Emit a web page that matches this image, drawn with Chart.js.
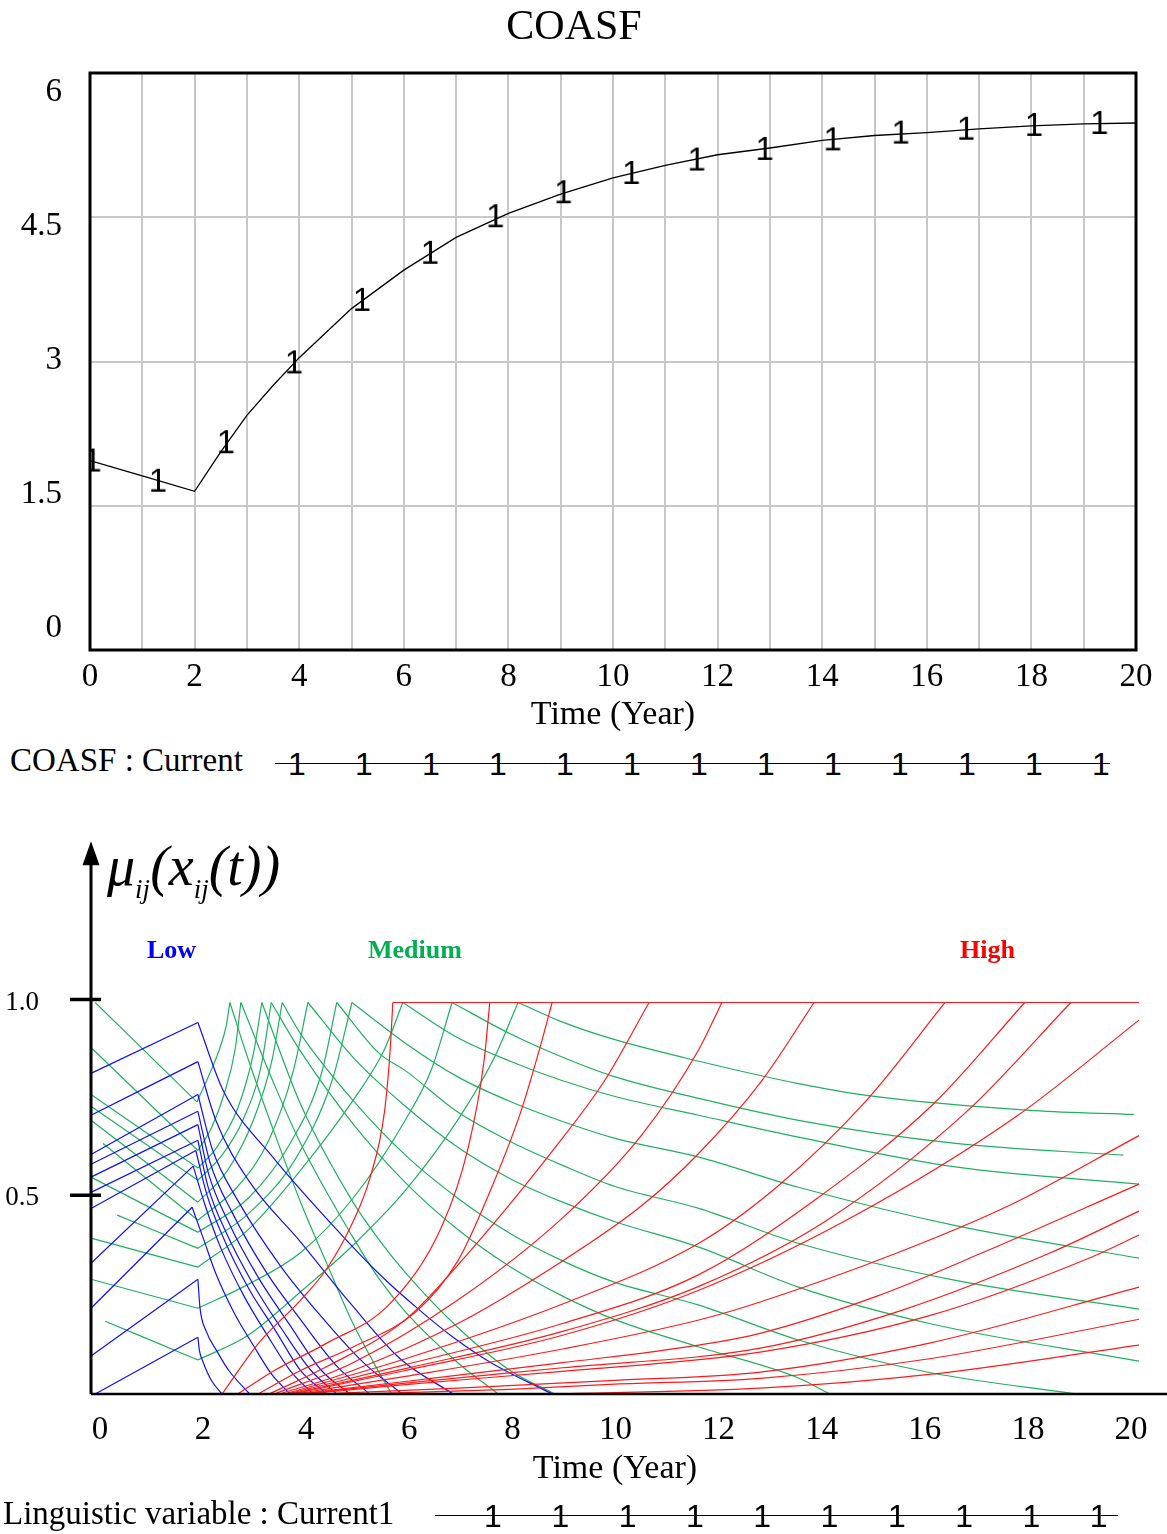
<!DOCTYPE html>
<html><head><meta charset="utf-8">
<script src="https://cdn.jsdelivr.net/npm/chart.js@4.4.1/dist/chart.umd.min.js"></script>
<style>
html,body{margin:0;padding:0;background:#fff;}
body{width:1167px;height:1534px;position:relative;overflow:hidden;font-family:'Liberation Serif','Times New Roman',serif;}
canvas{position:absolute;left:0;}
#c1{top:0;}
#c2{top:790px;}
.txt{position:absolute;white-space:nowrap;color:#000;line-height:1;}
.legline{position:absolute;height:0;border-top:1.5px solid #000;}
.mk{position:absolute;font:32px 'Liberation Sans',Arimo,Arial,sans-serif;line-height:1;transform:translate(-50%,-50%);color:#000;}
sub{font-size:27px;vertical-align:-13px;line-height:0;}
</style></head><body>
<canvas id="c1" width="1167" height="740"></canvas>
<canvas id="c2" width="1167" height="744"></canvas>

<div class="txt" style="left:10px;top:744px;font-size:33px;">COASF : Current</div>
<div class="legline" style="left:275px;top:763px;width:835px;"></div>
<div id="leg1"></div>

<div class="txt" style="left:107px;top:834px;font:italic 56px 'Liberation Serif',serif;">μ<sub>ij</sub>(x<sub>ij</sub>(t))</div>
<div class="txt" style="left:147px;top:935px;font:bold 26px 'Liberation Serif',serif;color:#0000ff;">Low</div>
<div class="txt" style="left:368px;top:935px;font:bold 26px 'Liberation Serif',serif;color:#00b050;">Medium</div>
<div class="txt" style="left:960px;top:935px;font:bold 26px 'Liberation Serif',serif;color:#ff0000;">High</div>

<div class="txt" style="left:3px;top:1497px;font-size:33px;">Linguistic variable : Current1</div>
<div class="legline" style="left:435px;top:1515px;width:683px;"></div>
<div id="leg2"></div>

<script>
// ---------- DATA: top chart (COASF) ----------
const coasfTime   = [0,1,2,2.5,3,3.5,4,5,6,7,8,9,10,11,12,13,14,15,16,17,18,19,20];
const coasfValues = [1.97,1.81,1.65,2.06,2.44,2.75,3.04,3.55,3.95,4.29,4.54,4.74,4.91,5.04,5.15,5.22,5.30,5.35,5.38,5.42,5.45,5.47,5.48];
const markerTime   = [0.05,1.3,2.6,3.9,5.2,6.5,7.75,9.05,10.35,11.6,12.9,14.2,15.5,16.75,18.05,19.3];
const markerValues = [1.96,1.75,2.15,2.98,3.63,4.12,4.50,4.75,4.95,5.09,5.20,5.30,5.37,5.41,5.45,5.47];
const yTicksTop = [0,1.5,3,4.5,6];
const xTicksTop = [0,2,4,6,8,10,12,14,16,18,20];

// ---------- DATA: bottom chart (membership [time, mu]) ----------
const xTicksBottom = [0,2,4,6,8,10,12,14,16,18,20];
const yTicksBottom = [0.5,1.0];

const lowCurves = [
 [[0,0.819],[2.04,0.949],[2.52,0.776],[3.47,0.605],[4.75,0.411],[5.52,0.304],[6.22,0.22],[6.91,0.145],[7.61,0.082],[8.8,0],[20,0]],
 [[0,0.712],[2.04,0.849],[2.38,0.70],[3.01,0.545],[3.99,0.39],[4.96,0.23],[5.9,0.09],[6.91,0],[20,0]],
 [[0,0.612],[2.04,0.765],[2.31,0.627],[2.82,0.49],[3.6,0.33],[4.38,0.2],[5.2,0.08],[5.94,0],[20,0]],
 [[0,0.587],[2.04,0.722],[2.27,0.592],[2.7,0.462],[3.35,0.31],[4.01,0.188],[4.7,0.07],[5.32,0],[20,0]],
 [[0,0.554],[2.04,0.688],[2.24,0.564],[2.62,0.44],[3.2,0.296],[3.78,0.179],[4.4,0.06],[4.94,0],[20,0]],
 [[0,0.515],[2.04,0.648],[2.23,0.531],[2.57,0.415],[3.1,0.279],[3.63,0.168],[4.2,0.06],[4.69,0],[20,0]],
 [[0,0.474],[2.0,0.622],[2.21,0.51],[2.53,0.398],[3.02,0.267],[3.52,0.162],[4.0,0.06],[4.5,0],[20,0]],
 [[0,0.334],[1.95,0.582],[2.19,0.477],[2.48,0.372],[2.92,0.25],[3.36,0.151],[3.8,0.06],[4.24,0],[20,0]],
 [[0,0.219],[1.93,0.477],[2.16,0.391],[2.39,0.305],[2.74,0.205],[3.1,0.124],[3.45,0.05],[3.8,0],[20,0]],
 [[0,0.097],[2.04,0.293],[2.08,0.22],[2.2,0.16],[2.4,0.11],[2.63,0.06],[3.03,0],[20,0]],
 [[0.08,0],[2.04,0.145],[2.07,0.11],[2.13,0.085],[2.22,0.055],[2.32,0.03],[2.5,0],[20,0]]
];

const mediumCurves = [
 [[0.08,1.0],[2.02,0.746],[2.27,0.82],[2.45,0.88],[2.58,0.94],[2.65,1],[3,0.855],[3.5,0.667],[4,0.49],[4.5,0.333],[5,0.18],[5.5,0.055],[5.74,0]],
 [[0,0.885],[2.04,0.622],[2.3,0.68],[2.55,0.77],[2.75,0.88],[2.86,1],[3.5,0.79],[4,0.64],[5,0.40],[5.52,0.29],[6,0.21],[7,0.08],[7.77,0]],
 [[0,0.765],[2.04,0.577],[2.4,0.63],[2.8,0.73],[3.1,0.87],[3.26,1],[4,0.74],[5,0.49],[5.52,0.39],[6,0.31],[7,0.17],[8,0.06],[8.85,0]],
 [[0,0.735],[2.04,0.546],[2.5,0.61],[2.9,0.7],[3.25,0.84],[3.44,1],[4,0.875],[5,0.69],[6,0.54],[7,0.42],[8,0.325],[9,0.25],[10,0.19],[11.6,0.12],[13.5,0.041],[14.1,0]],
 [[0,0.699],[2.04,0.49],[2.6,0.57],[3.1,0.7],[3.45,0.85],[3.65,1],[4,0.92],[5,0.75],[6,0.61],[7,0.50],[8,0.41],[9,0.34],[10,0.285],[11.6,0.227],[13.5,0.138],[16,0.055],[18.8,0]],
 [[0.23,0.64],[2.04,0.444],[2.8,0.53],[3.4,0.65],[3.85,0.82],[4.14,1],[5,0.86],[6,0.735],[7,0.63],[8,0.55],[9,0.49],[10,0.44],[11.6,0.375],[13.5,0.273],[16,0.18],[20,0.084]],
 [[0,0.554],[2.04,0.413],[3,0.5],[3.8,0.64],[4.4,0.82],[4.69,1],[5.5,0.87],[6,0.826],[7,0.72],[8,0.645],[9,0.584],[10,0.53],[11.6,0.474],[13.5,0.385],[16.5,0.29],[20,0.217]],
 [[0.5,0.457],[2.04,0.372],[3,0.46],[3.9,0.6],[4.6,0.8],[4.98,1],[6,0.896],[7,0.81],[8,0.747],[9,0.696],[10,0.653],[11.6,0.605],[13.5,0.528],[16.5,0.43],[20,0.347]],
 [[0,0.398],[2.04,0.324],[3,0.42],[3.99,0.57],[5,0.75],[5.6,0.88],[5.95,1],[7,0.91],[8,0.85],[9,0.80],[10,0.76],[11.6,0.712],[13.5,0.656],[16.5,0.58],[20,0.536]],
 [[0,0.293],[2.04,0.219],[3,0.28],[3.99,0.36],[5,0.5],[6,0.7],[6.5,0.83],[6.89,1],[8,0.92],[9,0.86],[10,0.81],[11.6,0.755],[13.5,0.699],[16.5,0.64],[19.7,0.61]],
 [[0.27,0.186],[2.04,0.087],[3,0.15],[3.99,0.26],[5,0.38],[6,0.52],[7,0.7],[7.7,0.86],[8.15,1],[9,0.95],[10,0.905],[11.6,0.85],[13.5,0.793],[14.8,0.763],[18,0.724],[19.9,0.714]]
];

const highCurves = [
 [[0,0],[2.5,0],[3.2,0.13],[4.0,0.24],[4.5,0.32],[5.0,0.44],[5.32,0.55],[5.6,0.72],[5.71,0.88],[5.76,1],[20,1]],
 [[0,0],[2.8,0],[3.5,0.06],[4.5,0.13],[5.7,0.23],[6.7,0.43],[7.2,0.63],[7.5,0.85],[7.61,1],[20,1]],
 [[0,0],[3.19,0],[4,0.06],[5,0.12],[6.2,0.21],[7.0,0.34],[7.56,0.5],[8.2,0.72],[8.6,0.9],[8.8,1],[20,1]],
 [[0,0],[3.4,0],[4.5,0.07],[6,0.19],[7.2,0.36],[8.8,0.62],[9.8,0.8],[10.65,1],[20,1]],
 [[0,0],[3.5,0],[5,0.08],[7,0.24],[9,0.45],[10.5,0.66],[11.6,0.88],[12.04,1],[20,1]],
 [[0,0],[3.6,0],[5,0.06],[7,0.18],[9,0.34],[10.5,0.48],[11.6,0.615],[12.8,0.8],[13.8,1],[20,1]],
 [[0,0],[3.7,0],[6,0.09],[9,0.23],[11.6,0.385],[13.1,0.53],[14.8,0.75],[16.3,1],[20,1]],
 [[0,0],[3.75,0],[6,0.075],[9,0.18],[11.6,0.305],[13.86,0.5],[16.07,0.74],[17.82,1],[20,1]],
 [[0,0],[3.8,0],[6,0.065],[9,0.16],[11.6,0.275],[14,0.44],[16.7,0.72],[18.7,1],[20,1]],
 [[0,0],[3.85,0],[6,0.06],[9,0.15],[11.6,0.265],[14.5,0.45],[17.67,0.71],[20,0.955]],
 [[0,0],[3.9,0],[6,0.045],[9,0.115],[11.6,0.189],[12.77,0.235],[15.38,0.36],[17.5,0.48],[20,0.66]],
 [[0,0],[3.95,0],[6,0.032],[9,0.08],[11.6,0.125],[12.77,0.155],[15,0.25],[17,0.36],[20,0.536]],
 [[0,0],[4.0,0],[6,0.028],[9,0.067],[12.77,0.117],[15.5,0.215],[18.3,0.36],[20,0.467]],
 [[0,0],[4.1,0],[6,0.024],[9,0.058],[12.77,0.107],[16,0.2],[19.1,0.35],[20,0.406]],
 [[0,0],[4.3,0],[7,0.015],[10,0.035],[12.77,0.056],[16,0.13],[20,0.273]],
 [[0,0],[5.0,0],[8,0.012],[10,0.025],[12.77,0.04],[16,0.09],[20,0.191]],
 [[0,0],[8.9,0],[12.77,0.015],[16,0.05],[20,0.125]]
];

// ---------- helpers ----------
const SERIF = "'Liberation Serif','Times New Roman',serif";

function makeOne(){
  const c=document.createElement('canvas'); c.width=22; c.height=38;
  const g=c.getContext('2d'); g.fillStyle='#000';
  g.font='33px "Liberation Sans", Arimo, Arial, sans-serif';
  g.textAlign='center'; g.textBaseline='middle'; g.fillText('1',11,20);
  return c;
}

function legendMarks(id, x0, dx, n, y){
  const el=document.getElementById(id);
  for(let k=0;k<n;k++){
    const s=document.createElement('div'); s.className='mk';
    s.style.left=(x0+dx*k)+'px'; s.style.top=y+'px'; s.textContent='1';
    el.appendChild(s);
  }
}
legendMarks('leg1',297,67,13,764);
legendMarks('leg2',493,67.3,10,1516);

const frame = {
  id:'frame',
  beforeDatasetsDraw(chart){
    const {ctx, chartArea:a} = chart;
    ctx.save(); ctx.strokeStyle='#000'; ctx.lineWidth=3;
    ctx.strokeRect(a.left, a.top, a.right-a.left, a.bottom-a.top);
    ctx.restore();
  }
};

function splitPieces(pts){
  const pieces=[]; let cur=[pts[0]]; let prev=null;
  for(let i=1;i<pts.length;i++){
    const d=pts[i][1]-pts[i-1][1];
    const s=Math.abs(d)<1e-9?0:Math.sign(d);
    if(prev!==null && s!==prev){ pieces.push(cur); cur=[pts[i-1]]; }
    cur.push(pts[i]); prev=s;
  }
  pieces.push(cur);
  return pieces;
}

const axes2 = {
  id:'axes2',
  afterDatasetsDraw(chart){
    const {ctx, chartArea:a, scales} = chart;
    const tip = a.top - 9;
    ctx.save(); ctx.strokeStyle='#000'; ctx.fillStyle='#000';
    ctx.lineWidth=2.5;
    ctx.beginPath(); ctx.moveTo(a.left, a.bottom); ctx.lineTo(1167, a.bottom); ctx.stroke();
    ctx.lineWidth=3;
    ctx.beginPath(); ctx.moveTo(a.left, a.bottom); ctx.lineTo(a.left, tip+20); ctx.stroke();
    ctx.beginPath(); ctx.moveTo(a.left, tip); ctx.lineTo(a.left-8.5, tip+24); ctx.lineTo(a.left+8.5, tip+24); ctx.closePath(); ctx.fill();
    ctx.lineWidth=3.5;
    yTicksBottom.forEach(v=>{
      const py = scales.y.getPixelForValue(v) - 3;
      ctx.beginPath(); ctx.moveTo(a.left-21, py); ctx.lineTo(a.left+10, py); ctx.stroke();
    });
    ctx.restore();
  }
};

function build(){
  const oneImg = makeOne();
  // ---------- top chart ----------
  new Chart(document.getElementById('c1'), {
    type:'line',
    data:{ datasets:[
      { label:'COASF : Current markers', data: markerTime.map((t,i)=>({x:t,y:markerValues[i]})),
        showLine:false, pointStyle: oneImg, pointRadius:6, order:0 },
      { label:'COASF : Current', data: coasfTime.map((t,i)=>({x:t,y:coasfValues[i]})),
        borderColor:'#000', borderWidth:1.3, pointRadius:0, tension:0, fill:false, order:1 }
    ]},
    options:{
      responsive:false, animation:false, events:[],
      layout:{padding:{left:12,right:31,top:0,bottom:0}},
      plugins:{
        legend:{display:false}, tooltip:{enabled:false},
        title:{display:true, text:'COASF', color:'#000', font:{family:SERIF,size:42,weight:'normal'}, padding:{top:3,bottom:19.6}}
      },
      scales:{
        x:{ type:'linear', min:0, max:20,
            ticks:{ stepSize:1, autoSkip:false, maxRotation:0, padding:8, color:'#000',
                    font:{family:SERIF,size:33}, callback:(v)=> xTicksTop.includes(v) ? String(v) : '' },
            grid:{ color:'#c8c8c8', lineWidth:2, drawTicks:false },
            border:{display:false},
            title:{ display:true, text:'Time (Year)', color:'#000', font:{family:SERIF,size:34}, padding:{top:0,bottom:5} },
            afterFit:(s)=>{ s.height=90; } },
        y:{ type:'linear', min:0, max:6,
            ticks:{ stepSize:1.5, display:false },
            grid:{ color:'#c8c8c8', lineWidth:2, drawTicks:false },
            border:{display:false},
            afterFit:(s)=>{ s.width=0; } },
        yl:{ type:'linear', position:'left', min:-0.246, max:6.213,
             afterBuildTicks:(s)=>{ s.ticks = yTicksTop.map(v=>({value:v})); },
             ticks:{ padding:20, color:'#000', font:{family:SERIF,size:33}, callback:(v)=>String(v) },
             grid:{ display:false }, border:{display:false},
             afterFit:(s)=>{ s.width=78; } }
      }
    },
    plugins:[frame]
  });

  // ---------- bottom chart ----------
  const datasets2=[];
  function addCurves(curves, color, order, name){
    curves.forEach((c,ci)=>{
      splitPieces(c).forEach(p=>{
        datasets2.push({ label:name+' '+(ci+1), data:p.map(q=>({x:q[0],y:q[1]})),
          borderColor:color, borderWidth:1.2, pointRadius:0, fill:false,
          cubicInterpolationMode:'monotone', clip:false, order });
      });
    });
  }
  addCurves(highCurves,'#ff1a1a',1,'High');
  addCurves(lowCurves,'#1010ff',2,'Low');
  addCurves(mediumCurves,'#1fb060',3,'Medium');

  new Chart(document.getElementById('c2'), {
    type:'line',
    data:{ datasets: datasets2 },
    options:{
      responsive:false, animation:false, events:[],
      layout:{padding:{left:0,right:28,top:0,bottom:0}},
      plugins:{ legend:{display:false}, tooltip:{enabled:false}, title:{display:false} },
      scales:{
        x:{ type:'linear', min:0, max:20, display:false },
        xt:{ type:'linear', position:'bottom', min:-0.1746, max:20.155,
             afterBuildTicks:(s)=>{ s.ticks = xTicksBottom.map(v=>({value:v})); },
             ticks:{ autoSkip:false, maxRotation:0, padding:9, color:'#000', font:{family:SERIF,size:33}, callback:(v)=>String(v) },
             grid:{display:false}, border:{display:false},
             title:{ display:true, text:'Time (Year)', color:'#000', font:{family:SERIF,size:34}, padding:{top:0,bottom:45} },
             afterFit:(s)=>{ s.height=140; } },
        y:{ type:'linear', min:0, max:1.389,
            afterBuildTicks:(s)=>{ s.ticks = yTicksBottom.map(v=>({value:v})); },
            ticks:{ padding:44, color:'#000', font:{family:SERIF,size:27}, callback:(v)=>Number(v).toFixed(1) },
            grid:{display:false}, border:{display:false},
            afterFit:(s)=>{ s.width=91; } }
      }
    },
    plugins:[axes2]
  });
}

if (document.fonts && document.fonts.load) {
  Promise.all([
    document.fonts.load('33px "Liberation Sans"'),
    document.fonts.load('33px "Liberation Serif"')
  ]).then(build, build);
} else { build(); }
</script>
</body></html>
